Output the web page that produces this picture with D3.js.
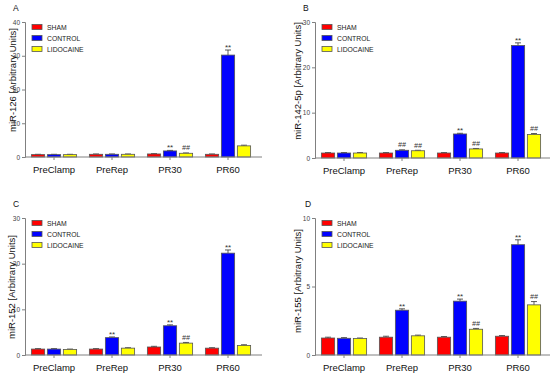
<!DOCTYPE html>
<html>
<head>
<meta charset="utf-8">
<script src="https://cdn.jsdelivr.net/npm/d3@7"></script>
<style>
  body { margin: 0; background: #fff; }
  svg { display: block; font-family: "Liberation Sans", Arial, sans-serif; }
</style>
</head>
<body>
<script>
// Categories and groups shared by all four panels.
const categories = ["PreClamp", "PreRep", "PR30", "PR60"];
const series = ["SHAM", "CONTROL", "LIDOCAINE"];
const colors = ["#ff0000", "#0000ff", "#ffff00"];

// Panel A: miR-126 (rows are SHAM, CONTROL, LIDOCAINE).
const mir126Values = [[0.7, 0.8, 0.9, 0.8], [0.7, 0.8, 1.8, 30.2], [0.7, 0.8, 1.1, 3.3]];
const mir126Errors = [[0.1, 0.1, 0.1, 0.1], [0.1, 0.1, 0.15, 1.5], [0.1, 0.1, 0.1, 0.2]];
const mir126Marks = [["", "", "", ""], ["", "", "**", "**"], ["", "", "##", ""]];
const mir126Ticks = [0, 10, 20, 30, 40];

// Panel B: miR-142-5p.
const mir142Values = [[1.1, 1.1, 1.1, 1.1], [1.1, 1.7, 5.3, 24.8], [1.1, 1.6, 2.0, 5.2]];
const mir142Errors = [[0.1, 0.1, 0.1, 0.1], [0.1, 0.1, 0.15, 0.6], [0.1, 0.1, 0.1, 0.2]];
const mir142Marks = [["", "", "", ""], ["", "##", "**", "**"], ["", "##", "##", "##"]];
const mir142Ticks = [0, 10, 20, 30];

// Panel C: miR-152.
const mir152Values = [[1.3, 1.3, 1.75, 1.5], [1.3, 3.8, 6.4, 22.3], [1.2, 1.5, 2.6, 2.1]];
const mir152Errors = [[0.1, 0.1, 0.15, 0.1], [0.1, 0.15, 0.2, 0.7], [0.1, 0.1, 0.15, 0.15]];
const mir152Marks = [["", "", "", ""], ["", "**", "**", "**"], ["", "", "##", ""]];
const mir152Ticks = [0, 10, 20, 30];

// Panel D: miR-155.
const mir155Values = [[1.24, 1.3, 1.3, 1.37], [1.22, 3.27, 3.93, 8.05], [1.2, 1.4, 1.88, 3.66]];
const mir155Errors = [[0.06, 0.07, 0.05, 0.05], [0.05, 0.1, 0.15, 0.36], [0.04, 0.05, 0.06, 0.24]];
const mir155Marks = [["", "", "", ""], ["", "**", "**", "**"], ["", "", "##", "##"]];
const mir155Ticks = [0, 5, 10];

const svg = d3.select("body").append("svg")
    .attr("width", 550)
    .attr("height", 376);

const AxisColor = "#808080";

// Draw one panel of grouped bars.
const drawPanel = function (p) {
    const g = svg.append("g");

    const x = d3.scaleBand()
        .domain(categories)
        .range([p.x0, p.x0 + 4 * 58])
        .paddingInner(0.22)
        .paddingOuter(0.11);

    const xs = d3.scaleBand()
        .domain(series)
        .range([0, x.bandwidth()])
        .paddingInner(0.17);

    const y = d3.scaleLinear()
        .domain([0, p.max])
        .range([p.y0, p.yTop]);

    // Bars, error bars and significance marks.
    series.forEach((s, si) => {
        const rows = categories.map((c, ci) => ({
            c: c,
            v: p.values[si][ci],
            e: p.errors[si][ci],
            m: p.marks[si][ci]
        }));
        const bx = d => x(d.c) + xs(s);
        const cx = d => bx(d) + xs.bandwidth() / 2;

        g.selectAll(null).data(rows).enter().append("line")
            .attr("x1", cx).attr("x2", cx)
            .attr("y1", d => y(d.v)).attr("y2", d => y(d.v + d.e))
            .attr("stroke", "#333").attr("stroke-width", 0.8);
        g.selectAll(null).data(rows).enter().append("line")
            .attr("x1", d => cx(d) - 3).attr("x2", d => cx(d) + 3)
            .attr("y1", d => y(d.v + d.e)).attr("y2", d => y(d.v + d.e))
            .attr("stroke", "#333").attr("stroke-width", 0.8);

        g.selectAll(null).data(rows).enter().append("rect")
            .attr("x", bx)
            .attr("y", d => y(d.v))
            .attr("width", xs.bandwidth())
            .attr("height", d => y(0) - y(d.v))
            .attr("fill", colors[si])
            .attr("stroke", "#555")
            .attr("stroke-width", 0.8);

        g.selectAll(null).data(rows.filter(d => d.m)).enter().append("text")
            .attr("x", cx)
            .attr("y", d => y(d.v + d.e) - (d.m === "**" ? 0 : 2.5))
            .attr("text-anchor", "middle")
            .attr("font-size", d => d.m === "**" ? 8 : 7)
            .attr("font-style", d => d.m === "##" ? "italic" : "normal")
            .attr("fill", "#333")
            .text(d => d.m);
    });

    // Y axis.
    const yAxis = g.append("g")
        .attr("transform", `translate(${p.x0},0)`)
        .call(d3.axisLeft(y).tickValues(p.ticks).tickSize(3).tickPadding(2));
    yAxis.selectAll("path, line").attr("stroke", AxisColor);
    yAxis.selectAll("text").attr("font-size", 6.5).attr("fill", "#444")
        .attr("font-family", "'Liberation Sans', Arial, sans-serif");

    // X axis: baseline plus a tick under each group.
    const xAxis = g.append("g")
        .attr("transform", `translate(0,${p.y0})`)
        .call(d3.axisBottom(x).tickSize(3).tickPadding(6));
    xAxis.select(".domain").attr("d", `M${p.x0},0H${p.x0 + 237}`);
    xAxis.selectAll("path, line").attr("stroke", AxisColor);
    xAxis.selectAll("text").attr("font-size", 9.5).attr("fill", "#111")
        .attr("font-family", "'Liberation Sans', Arial, sans-serif");

    // Y axis title.
    g.append("text")
        .attr("transform", `translate(${p.titleX},${p.titleY}) rotate(-90)`)
        .attr("text-anchor", "middle")
        .attr("font-size", 9.5)
        .attr("fill", "#111")
        .text(p.title);

    // Panel letter.
    g.append("text")
        .attr("x", p.letterX)
        .attr("y", p.letterY)
        .attr("font-size", 8.5)
        .attr("fill", "#111")
        .text(p.letter);

    // Legend.
    series.forEach((s, si) => {
        const ly = p.yTop + 5 + si * 11;
        g.append("rect")
            .attr("x", p.x0 + 7).attr("y", ly - 2.5)
            .attr("width", 10).attr("height", 5)
            .attr("fill", colors[si])
            .attr("stroke", "#555").attr("stroke-width", 0.8);
        g.append("text")
            .attr("x", p.x0 + 22).attr("y", ly + 2.5)
            .attr("font-size", 6.8)
            .attr("fill", "#222")
            .text(s);
    });
};

drawPanel({ x0: 25, y0: 157, yTop: 22, max: 40, ticks: mir126Ticks,
    values: mir126Values, errors: mir126Errors, marks: mir126Marks,
    title: "miR-126 [Arbitrary Units]", titleX: 15.5, titleY: 80,
    letter: "A", letterX: 13, letterY: 11 });

drawPanel({ x0: 315, y0: 158, yTop: 22, max: 30, ticks: mir142Ticks,
    values: mir142Values, errors: mir142Errors, marks: mir142Marks,
    title: "miR-142-5p [Arbitrary Units]", titleX: 301, titleY: 81,
    letter: "B", letterX: 303, letterY: 11 });

drawPanel({ x0: 25, y0: 355, yTop: 218, max: 30, ticks: mir152Ticks,
    values: mir152Values, errors: mir152Errors, marks: mir152Marks,
    title: "miR-152 [Arbitrary Units]", titleX: 15, titleY: 287,
    letter: "C", letterX: 13, letterY: 207 });

drawPanel({ x0: 315, y0: 355, yTop: 218, max: 10, ticks: mir155Ticks,
    values: mir155Values, errors: mir155Errors, marks: mir155Marks,
    title: "miR-155 [Arbitrary Units]", titleX: 301, titleY: 281,
    letter: "D", letterX: 305, letterY: 207 });
</script>
</body>
</html>
